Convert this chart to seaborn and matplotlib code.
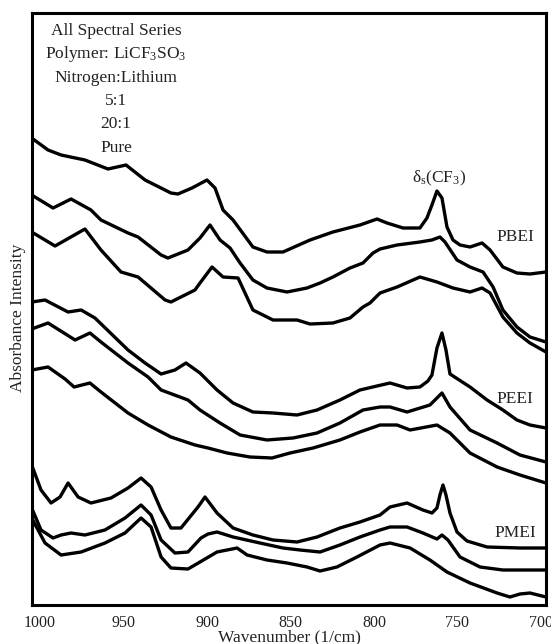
import numpy as np
import pandas as pd
import matplotlib
matplotlib.use("Agg")
import matplotlib.pyplot as plt
import seaborn as sns

# ---------------- data (wavenumber in 1/cm, offset absorbance in a.u.) ----------------
wn_pbei_51 = [1005, 995.2, 987.4, 973.1, 959.3, 948.5, 937.1, 921.6, 917.4, 909.0, 900.0, 895.2,
              890.4, 884.4, 872.5, 864.1, 854.5, 838.3, 824.6, 808.4, 798.2, 792.2, 782.6, 772.5,
              768.3, 765.3, 762.3, 759.3, 756.3, 752.7, 748.5, 742.5, 735.3, 730.5, 722.8, 714.4,
              706.6, 697]
ab_pbei_51 = [4.67, 4.55, 4.50, 4.45, 4.36, 4.40, 4.25, 4.12, 4.11, 4.17, 4.25, 4.17,
              3.95, 3.85, 3.58, 3.53, 3.53, 3.65, 3.73, 3.80, 3.86, 3.82, 3.77, 3.77,
              3.87, 4.00, 4.14, 4.07, 3.78, 3.65, 3.60, 3.58, 3.62, 3.55, 3.38, 3.32,
              3.31, 3.33]

wn_pbei_201 = [1005, 992.2, 981.4, 969.5, 963.5, 947.3, 941.3, 927.5, 923.4, 911.4, 904.2, 898.2,
               892.2, 886.2, 880.2, 872.5, 864.1, 852.1, 840.1, 832.3, 824.6, 814.4, 806.6, 800.6,
               796.4, 786.2, 772.5, 765.3, 760.5, 757.5, 750.3, 742.5, 734.7, 728.7, 722.8, 714.4,
               706.6, 697]
ab_pbei_201 = [4.10, 3.97, 4.06, 3.95, 3.85, 3.72, 3.68, 3.50, 3.47, 3.55, 3.67, 3.80,
               3.65, 3.57, 3.42, 3.25, 3.17, 3.13, 3.17, 3.22, 3.28, 3.37, 3.42, 3.52,
               3.56, 3.60, 3.63, 3.65, 3.68, 3.63, 3.45, 3.38, 3.33, 3.18, 2.95, 2.78,
               2.68, 2.63]

wn_pbei_pure = [1005, 991.0, 973.1, 963.5, 951.5, 941.3, 925.1, 921.6, 907.2, 904.2, 897.0, 890.4,
                881.4, 872.5, 860.5, 846.1, 838.3, 824.6, 814.4, 806.6, 802.4, 796.4, 786.2, 772.5,
                762.3, 752.7, 742.5, 735.3, 730.5, 722.8, 714.4, 706.6, 697]
ab_pbei_pure = [3.73, 3.59, 3.76, 3.55, 3.33, 3.28, 3.05, 3.03, 3.15, 3.22, 3.38, 3.28,
                3.27, 2.95, 2.85, 2.85, 2.81, 2.82, 2.87, 2.98, 3.02, 3.12, 3.18, 3.28,
                3.23, 3.17, 3.13, 3.17, 3.12, 2.88, 2.72, 2.62, 2.53]

wn_peei_51 = [1005, 997.0, 983.2, 975.4, 967.1, 947.3, 937.1, 927.5, 919.2, 912.6, 904.2, 894.0,
              884.4, 872.5, 860.5, 846.1, 834.1, 820.4, 808.4, 798.2, 790.4, 780.2, 772.5, 767.7,
              765.3, 762.3, 759.3, 756.9, 754.5, 742.5, 732.3, 722.8, 714.4, 706.6, 697]
ab_peei_51 = [3.03, 3.05, 2.93, 2.95, 2.87, 2.55, 2.42, 2.31, 2.35, 2.42, 2.32, 2.15,
              2.02, 1.93, 1.92, 1.90, 1.95, 2.05, 2.15, 2.19, 2.22, 2.17, 2.18, 2.24,
              2.30, 2.57, 2.72, 2.55, 2.31, 2.18, 2.05, 1.95, 1.85, 1.80, 1.77]

wn_peei_201 = [1005, 995.2, 979.0, 970.1, 963.5, 947.3, 935.3, 927.5, 911.4, 904.2, 892.2, 880.2,
               864.1, 848.5, 834.1, 820.4, 806.6, 796.4, 790.4, 780.2, 766.5, 762.3, 759.3, 754.5,
               742.5, 726.3, 712.6, 697]
ab_peei_201 = [2.76, 2.82, 2.65, 2.72, 2.63, 2.42, 2.28, 2.15, 2.05, 1.95, 1.82, 1.70,
               1.65, 1.67, 1.72, 1.82, 1.95, 1.98, 1.98, 1.93, 2.00, 2.07, 2.12, 1.98,
               1.75, 1.62, 1.50, 1.43]

wn_peei_pure = [1005, 995.2, 985.0, 979.6, 970.1, 963.5, 947.3, 935.3, 921.6, 907.2, 899.4, 888.0,
                874.3, 861.1, 850.3, 836.5, 820.4, 808.4, 796.4, 786.2, 778.4, 762.3, 754.5, 742.5,
                726.3, 712.6, 697]
ab_peei_pure = [2.35, 2.38, 2.26, 2.18, 2.22, 2.13, 1.92, 1.80, 1.68, 1.60, 1.57, 1.52,
                1.48, 1.47, 1.52, 1.57, 1.65, 1.73, 1.80, 1.80, 1.75, 1.80, 1.72, 1.52,
                1.38, 1.30, 1.22]

wn_pmei_51 = [1005, 999.4, 993.4, 988.0, 983.2, 977.2, 969.5, 957.5, 947.3, 939.5, 933.5, 927.5,
              921.6, 915.6, 905.4, 901.2, 894.0, 884.4, 872.5, 860.5, 846.1, 834.1, 820.4, 808.4,
              796.4, 790.4, 780.2, 770.7, 765.3, 762.3, 760.5, 758.7, 756.9, 754.5, 750.3, 744.3,
              732.3, 712.6, 697]
ab_pmei_51 = [1.40, 1.15, 1.02, 1.08, 1.22, 1.08, 1.02, 1.07, 1.17, 1.27, 1.18, 0.95,
              0.77, 0.77, 0.98, 1.08, 0.92, 0.77, 0.70, 0.65, 0.63, 0.68, 0.77, 0.83,
              0.90, 0.98, 1.02, 0.95, 0.92, 0.97, 1.10, 1.20, 1.10, 0.92, 0.73, 0.64,
              0.58, 0.57, 0.57]

wn_pmei_201 = [1005, 999.4, 992.2, 987.4, 981.4, 973.1, 961.1, 949.1, 939.5, 933.5, 927.5, 919.2,
               911.4, 903.6, 899.4, 894.0, 884.4, 868.3, 854.5, 844.3, 832.3, 820.4, 808.4, 796.4,
               790.4, 780.2, 770.7, 762.3, 759.3, 755.7, 748.5, 736.5, 722.8, 697]
ab_pmei_201 = [0.97, 0.75, 0.67, 0.70, 0.72, 0.70, 0.75, 0.87, 1.00, 0.90, 0.65, 0.52,
               0.53, 0.67, 0.71, 0.73, 0.68, 0.62, 0.57, 0.55, 0.53, 0.60, 0.68, 0.75,
               0.78, 0.78, 0.72, 0.66, 0.70, 0.65, 0.48, 0.38, 0.35, 0.35]

wn_pmei_pure = [1005, 997.0, 987.4, 975.4, 961.1, 949.1, 939.5, 933.5, 927.5, 921.6, 911.4, 904.2,
                894.0, 882.0, 876.0, 864.1, 852.1, 840.1, 832.3, 822.2, 810.2, 796.4, 790.4, 778.4,
                766.5, 756.3, 742.5, 726.3, 718.6, 712.6, 706.6, 697]
ab_pmei_pure = [0.87, 0.62, 0.50, 0.53, 0.62, 0.72, 0.87, 0.78, 0.48, 0.37, 0.36, 0.43,
                0.53, 0.57, 0.50, 0.45, 0.42, 0.38, 0.34, 0.38, 0.48, 0.60, 0.62, 0.57,
                0.45, 0.33, 0.22, 0.12, 0.08, 0.11, 0.12, 0.08]

series = {
    "PBEI 5:1": (wn_pbei_51, ab_pbei_51),
    "PBEI 20:1": (wn_pbei_201, ab_pbei_201),
    "PBEI Pure": (wn_pbei_pure, ab_pbei_pure),
    "PEEI 5:1": (wn_peei_51, ab_peei_51),
    "PEEI 20:1": (wn_peei_201, ab_peei_201),
    "PEEI Pure": (wn_peei_pure, ab_peei_pure),
    "PMEI 5:1": (wn_pmei_51, ab_pmei_51),
    "PMEI 20:1": (wn_pmei_201, ab_pmei_201),
    "PMEI Pure": (wn_pmei_pure, ab_pmei_pure),
}
x_ticks = [1000, 950, 900, 850, 800, 750, 700]

# ---------------- figure ----------------
sns.set_style("white")
plt.rcParams["font.family"] = ["Liberation Serif", "DejaVu Serif"]
plt.rcParams["mathtext.default"] = "regular"

TXT = "#222222"
fig = plt.figure(figsize=(5.51, 6.44), dpi=100)
ax = fig.add_axes([32 / 551, (644 - 605) / 644, 514 / 551, 592 / 644])

df = pd.concat(
    [pd.DataFrame({"wn": w, "ab": a, "curve": k}) for k, (w, a) in series.items()],
    ignore_index=True,
)
sns.lineplot(data=df, x="wn", y="ab", units="curve", estimator=None, color="black",
             linewidth=2.4, ax=ax, legend=False, sort=True)
for ln in ax.lines:
    ln.set_solid_joinstyle("round")
    ln.set_solid_capstyle("round")

ax.set_xlim(1004.8, 697.0)
ax.set_ylim(0, 5.92)
ax.set_xticks(x_ticks)
ax.set_xticklabels([str(t) for t in x_ticks])
ax.set_yticks([])
ax.tick_params(axis="x", direction="out", length=5, width=2, color="black",
               labelsize=11.5, labelcolor=TXT, pad=2)
for s in ax.spines.values():
    s.set_visible(True)
    s.set_linewidth(2.2)
    s.set_color("black")

ax.set_xlabel("Wavenumber (1/cm)", fontsize=12.5, color=TXT, labelpad=-1.0)
ax.set_ylabel("Absorbance Intensity", fontsize=12.5, color=TXT)
ax.yaxis.set_label_coords(-0.012, 0.485)

def fy(py):
    return (605 - py) / 592

def fx(px):
    return (px - 32) / 514

header = ["All Spectral Series", "Polymer: LiCF$_3$SO$_3$", "Nitrogen:Lithium", "5:1", "20:1", "Pure"]
baselines = [35, 58.5, 82, 105, 128.5, 152]
for t, b in zip(header, baselines):
    ax.text(fx(116), fy(b), t, transform=ax.transAxes, ha="center", va="baseline",
            fontsize=12.5, color=TXT)

ax.text(fx(439), fy(182), "δ$_s$(CF$_3$)", transform=ax.transAxes, ha="center",
        va="baseline", fontsize=12.5, color=TXT)
for t, b in zip(["PBEI", "PEEI", "PMEI"], [241, 403, 537]):
    ax.text(fx(515), fy(b), t, transform=ax.transAxes, ha="center", va="baseline",
            fontsize=12.5, color=TXT)

fig.savefig("out.png", dpi=100)
